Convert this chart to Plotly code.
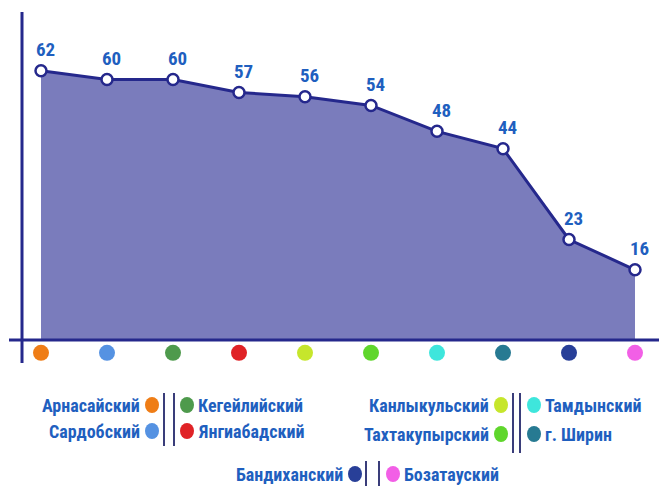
import plotly.graph_objects as go

# district values (left to right)
values = [62, 60, 60, 57, 56, 54, 48, 44, 23, 16]
dot_colors = ["#ef7d16", "#5592e2", "#4e9a4c", "#e02226", "#c6e62c",
              "#5fd62c", "#3ee6dc", "#277a92", "#283f98", "#f25fe6"]

# legend rows: (label, color) pairs, left block / right block
legend_left = [("Арнасайский", "#ef7d16"), ("Сардобский", "#5592e2"),
               ("Канлыкульский", "#c6e62c"), ("Тахтакупырский", "#5fd62c"),
               ("Бандиханский", "#283f98")]
legend_right = [("Кегейлийский", "#4e9a4c"), ("Янгиабадский", "#e02226"),
                ("Тамдынский", "#3ee6dc"), ("г. Ширин", "#277a92"),
                ("Бозатауский", "#f25fe6")]

W, H = 659, 486
NAVY = "#25288c"
LABEL_BLUE = "#1f5fbf"
FONT = "Liberation Sans Narrow, Arial Narrow, Roboto Condensed, Roboto, Arial, sans-serif"

x = list(range(len(values)))

fig = go.Figure()

# area + line
fig.add_trace(go.Scatter(
    x=x, y=values, mode="lines+markers",
    line=dict(color=NAVY, width=3),
    fill="tozeroy", fillcolor="#7a7cbc",
    marker=dict(size=11, color="white", line=dict(color=NAVY, width=2.5)),
    hoverinfo="skip", showlegend=False,
))

# coloured category dots under the axis
fig.add_trace(go.Scatter(
    x=x, y=[-3.2] * len(x), mode="markers",
    marker=dict(size=16, color=dot_colors, symbol="circle"),
    hoverinfo="skip", showlegend=False,
))

# value labels
for xi, v in zip(x, values):
    fig.add_annotation(x=xi, y=v, text=f"<b>{v}</b>", showarrow=False,
                       yshift=21, xshift=4,
                       font=dict(size=19, color=LABEL_BLUE, family=FONT))


def fx(xp):
    return xp / W


def fy(yp):
    return 1 - yp / H


# axis lines (drawn as shapes in pixel space)
fig.add_shape(type="line", xref="paper", yref="paper",
              x0=fx(22), x1=fx(22), y0=fy(12), y1=fy(363),
              line=dict(color=NAVY, width=3))
fig.add_shape(type="line", xref="paper", yref="paper",
              x0=fx(9), x1=1, y0=fy(340), y1=fy(340),
              line=dict(color=NAVY, width=3))


def legend_dot(cx, cy, color):
    fig.add_shape(type="circle", xref="paper", yref="paper",
                  x0=fx(cx - 7), x1=fx(cx + 7), y0=fy(cy - 8), y1=fy(cy + 8),
                  fillcolor=color, line=dict(width=0))


# legend blocks
blocks = [
    dict(items=(0, 1), dl=152, dr=187, bars=(164, 174), ys=(405, 431), by=(393, 446)),
    dict(items=(2, 3), dl=501, dr=534, bars=(513, 520), ys=(405, 434), by=(393, 453)),
    dict(items=(4,), dl=355, dr=393, bars=(366, 379), ys=(474,), by=(461, 486)),
]

for b in blocks:
    for row, idx in enumerate(b["items"]):
        yp = b["ys"][row]
        lt, lc = legend_left[idx]
        rt, rc = legend_right[idx]
        legend_dot(b["dl"], yp, lc)
        legend_dot(b["dr"], yp, rc)
        fig.add_annotation(xref="paper", yref="paper", x=fx(b["dl"] - 10), y=fy(yp),
                           text=f"<b>{lt}</b>", showarrow=False, xanchor="right",
                           yanchor="middle",
                           font=dict(size=18, color=LABEL_BLUE, family=FONT))
        fig.add_annotation(xref="paper", yref="paper", x=fx(b["dr"] + 9), y=fy(yp),
                           text=f"<b>{rt}</b>", showarrow=False, xanchor="left",
                           yanchor="middle",
                           font=dict(size=18, color=LABEL_BLUE, family=FONT))
    for bx in b["bars"]:
        fig.add_shape(type="line", xref="paper", yref="paper",
                      x0=fx(bx), x1=fx(bx), y0=fy(b["by"][0]), y1=fy(b["by"][1]),
                      line=dict(color="#3a3d7a", width=2))

# x: index i sits at 41 + 66*i px ; y: 0 at 339 px, 4.326 px per unit
fig.update_xaxes(range=[-41 / 66, 618 / 66], visible=False, fixedrange=True)
fig.update_yaxes(range=[-147 / 4.326, 339 / 4.326], visible=False, fixedrange=True)

fig.update_layout(
    width=W, height=H,
    margin=dict(l=0, r=0, t=0, b=0),
    plot_bgcolor="white", paper_bgcolor="white",
    showlegend=False,
)

fig.write_html("out.html", config={"displayModeBar": False},
               post_script="document.body.style.margin='0px';")
